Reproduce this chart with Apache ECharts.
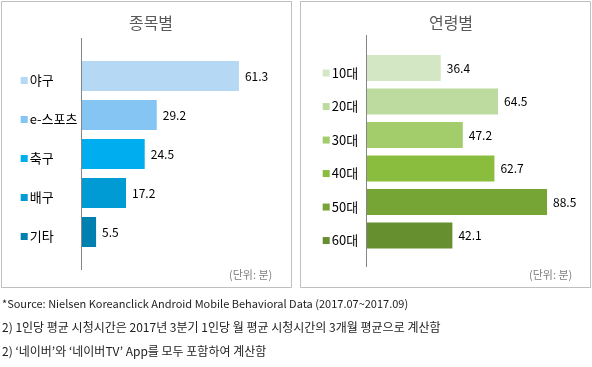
<!DOCTYPE html>
<html><head><meta charset="utf-8">
<script src="https://cdn.jsdelivr.net/npm/echarts@6/dist/echarts.min.js"></script>
<style>html,body{margin:0;padding:0;background:#fff}#c{width:592px;height:367px}</style>
</head><body><div id="c"></div>
<script>
const sportCats = ['야구', 'e-스포츠', '축구', '배구', '기타'];
const sportVals = [61.3, 29.2, 24.5, 17.2, 5.5];
const sportColors = ['#b5d8f5', '#85c5f3', '#00aeef', '#009bd5', '#007fb1'];
const ageCats = ['10대', '20대', '30대', '40대', '50대', '60대'];
const ageVals = [36.4, 64.5, 47.2, 62.7, 88.5, 42.1];
const ageColors = ['#d4e7c5', '#bedb9f', '#a2cd6a', '#8abd3e', '#76a535', '#66902f'];
const notes = [
  '*Source: Nielsen Koreanclick Android Mobile Behavioral Data (2017.07~2017.09)',
  '2) 1인당 평균 시청시간은 2017년 3분기 1인당 월 평균 시청시간의 3개월 평균으로 계산함',
  "2) ‘네이버’와 ‘네이버TV’ App를 모두 포함하여 계산함"
];
const FONT = '"Noto Sans CJK KR", "Noto Sans", sans-serif';

function richFor(colors) {
  const r = { t: { fontSize: 13, color: '#000', fontFamily: FONT, padding: [0, 0, 0, 2] } };
  colors.forEach((c, i) => { r['s' + i] = { width: 7, height: 7, backgroundColor: c }; });
  return r;
}

const chart = echarts.init(document.getElementById('c'), null, { renderer: 'canvas' });
chart.setOption({
  animation: false,
  textStyle: { fontFamily: FONT },
  title: [
    { text: '종목별', left: 146, top: 10, textAlign: 'center',
      textStyle: { fontSize: 16, fontWeight: 'normal', color: '#595959', fontFamily: FONT, letterSpacing: 3 } },
    { text: '연령별', left: 446, top: 10, textAlign: 'center',
      textStyle: { fontSize: 16, fontWeight: 'normal', color: '#595959', fontFamily: FONT, letterSpacing: 3 } }
  ],
  grid: [
    { left: 82, top: 56.5, height: 195, width: 256 },
    { left: 366.5, top: 51.3, height: 201, width: 204 }
  ],
  xAxis: [
    { gridIndex: 0, type: 'value', min: 0, max: 100, show: false },
    { gridIndex: 1, type: 'value', min: 0, max: 100, show: false }
  ],
  yAxis: [
    { gridIndex: 0, type: 'category', inverse: true, data: sportCats,
      axisLine: { show: false }, axisTick: { show: false },
      axisLabel: { align: 'left', margin: 61.3, padding: [9, 0, 0, 0],
        formatter: (v, i) => '{s' + i + '|}{t|' + v + '}', rich: richFor(sportColors) } },
    { gridIndex: 1, type: 'category', inverse: true, data: ageCats,
      axisLine: { show: false }, axisTick: { show: false },
      axisLabel: { align: 'left', margin: 43.8, padding: [10, 0, 0, 0],
        formatter: (v, i) => '{s' + i + '|}{t|' + v + '}', rich: richFor(ageColors) } }
  ],
  series: [
    { type: 'bar', xAxisIndex: 0, yAxisIndex: 0, barWidth: 30,
      data: sportVals.map((v, i) => ({ value: v, itemStyle: { color: sportColors[i] } })),
      label: { show: true, position: 'right', distance: 6, fontSize: 12, color: '#000', fontFamily: FONT } },
    { type: 'bar', xAxisIndex: 1, yAxisIndex: 1, barWidth: 26,
      data: ageVals.map((v, i) => ({ value: v, itemStyle: { color: ageColors[i] } })),
      label: { show: true, position: 'right', distance: 6, fontSize: 12, color: '#000', fontFamily: FONT } }
  ],
  graphic: [
    { type: 'rect', shape: { x: 1.5, y: 1.5, width: 290, height: 286 }, style: { fill: 'none', stroke: '#bfbfbf', lineWidth: 1 }, z: -1 },
    { type: 'rect', shape: { x: 300.5, y: 1.5, width: 290, height: 286 }, style: { fill: 'none', stroke: '#bfbfbf', lineWidth: 1 }, z: -1 },
    { type: 'line', shape: { x1: 81.5, y1: 38, x2: 81.5, y2: 270 }, style: { stroke: '#868686', lineWidth: 1 }, z: 10 },
    { type: 'line', shape: { x1: 366.5, y1: 35, x2: 366.5, y2: 267 }, style: { stroke: '#868686', lineWidth: 1 }, z: 10 },
    { type: 'text', left: 229, top: 269, style: { text: '(단위: 분)', fontSize: 11, fill: '#7f7f7f', fontFamily: FONT } },
    { type: 'text', left: 529, top: 269, style: { text: '(단위: 분)', fontSize: 11, fill: '#7f7f7f', fontFamily: FONT } },
    { type: 'text', left: 2, top: 298, style: { text: notes[0], fontSize: 11, fill: '#222', fontFamily: FONT } },
    { type: 'text', left: 2, top: 321, style: { text: notes[1], fontSize: 12, fill: '#222', fontFamily: FONT } },
    { type: 'text', left: 2, top: 345, style: { text: notes[2], fontSize: 12, fill: '#222', fontFamily: FONT } }
  ]
});
</script></body></html>
